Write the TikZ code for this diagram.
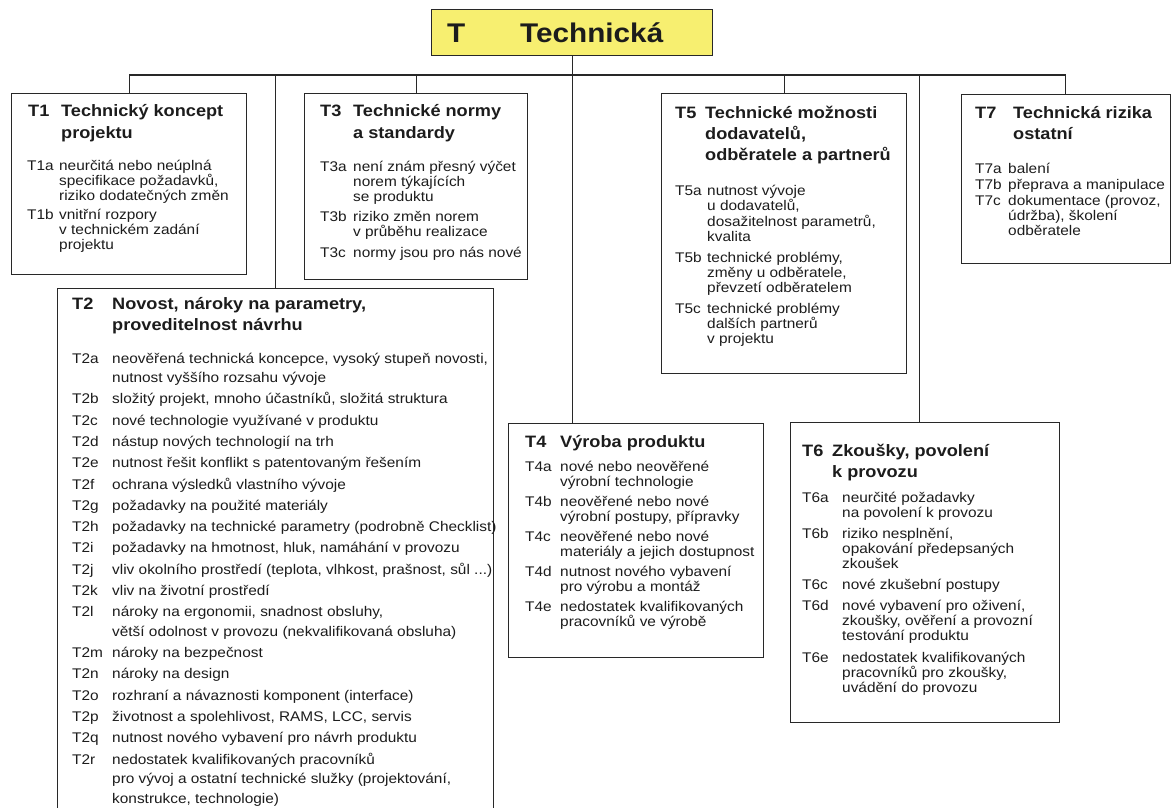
\documentclass[tikz,border=0pt]{standalone}
\usepackage{fontspec}
\setmainfont{Liberation Sans}[FakeStretch=1.1]
\definecolor{ink}{RGB}{28,28,28}
\definecolor{linec}{RGB}{40,40,40}
\definecolor{titlefill}{RGB}{247,239,112}
% font sizes used in the panels
\newcommand\bodyfont{\fontsize{14}{15}\selectfont}
\newcommand\loosefont{\fontsize{14}{19.5}\selectfont}
\newcommand\headfont{\fontsize{16.5}{21.3}\selectfont\bfseries}
% a column of manually broken lines, aligned on its first baseline
\newcommand\lines[1]{\begin{tabular}[t]{@{}l@{}}#1\end{tabular}}
% fixed-width code label in front of a row
\newcommand\lab[2]{\makebox[#1][l]{#2}}
\begin{document}
\begin{tikzpicture}[x=1pt,y=-1pt,
  wire/.style={draw=linec,line width=1.2pt},
  panel/.style={draw=linec,line width=1.2pt,fill=white,anchor=north west,inner sep=0pt},
  titlebox/.style={panel,fill=titlefill},
  titletxt/.style={anchor=base west,inner sep=0pt,text=ink,font=\fontsize{27}{30}\selectfont\bfseries},
  head/.style={anchor=base west,inner sep=0pt,text=ink,font=\headfont},
  item/.style={anchor=base west,inner sep=0pt,text=ink,font=\bodyfont},
  looseitem/.style={item,font=\loosefont}]
\useasboundingbox (0,0) rectangle (1171,808);

% ---- boxes -------------------------------------------------------------
\node[titlebox,minimum width=281pt,minimum height=46pt] (title) at (431,9) {};
\node[panel,minimum width=235pt,minimum height=181pt] (t1) at (11,93) {};
\node[panel,minimum width=223pt,minimum height=186pt] (t3) at (304,93) {};
\node[panel,minimum width=245pt,minimum height=280pt] (t5) at (661,93) {};
\node[panel,minimum width=208.5pt,minimum height=169pt] (t7) at (961,94) {};
\node[panel,minimum width=436pt,minimum height=519.5pt] (t2) at (57,288) {};
\node[panel,minimum width=255pt,minimum height=234pt] (t4) at (508,423) {};
\node[panel,minimum width=269pt,minimum height=300pt] (t6) at (790,422) {};

% ---- connectors --------------------------------------------------------
\coordinate (bus) at (572,75);
\coordinate (t6top) at ([xshift=-5.5pt]t6.north);
\draw[wire] (title.south) -- (title.south |- t4.north);
\draw[wire] (t1.north |- bus) -- (t7.north |- bus);
\foreach \n in {t1,t2,t3,t5,t7}
  \draw[wire] (\n.north |- bus) -- (\n.north);
\draw[wire] (t6top |- bus) -- (t6top);

% ---- title -------------------------------------------------------------
\node[titletxt] (titleT) at (447,43) {T};
\node[titletxt] (titleName) at (520,43) {Technická};

% ---- T1 ----------------------------------------------------------------
\node[head] (t1h) at (28,117) {\lab{33pt}{T1}\lines{Technický koncept\\projektu}};
\node[item] (t1a) at (27,170) {\lab{32pt}{T1a}\lines{neurčitá nebo neúplná\\specifikace požadavků,\\riziko dodatečných změn}};
\node[item] (t1b) at (27,219) {\lab{32pt}{T1b}\lines{vnitřní rozpory\\v technickém zadání\\projektu}};

% ---- T3 ----------------------------------------------------------------
\node[head] (t3h) at (320,117) {\lab{33pt}{T3}\lines{Technické normy\\a standardy}};
\node[item] (t3a) at (320,171) {\lab{33pt}{T3a}\lines{není znám přesný výčet\\norem týkajících\\se produktu}};
\node[item] (t3b) at (320,221) {\lab{33pt}{T3b}\lines{riziko změn norem\\v průběhu realizace}};
\node[item] (t3c) at (320,257) {\lab{33pt}{T3c}\lines{normy jsou pro nás nové}};

% ---- T5 ----------------------------------------------------------------
\node[head] (t5h) at (675,118) {\lab{30pt}{T5}\lines{Technické možnosti\\dodavatelů,\\odběratele a partnerů}};
\node[item] (t5a) at (675,195) {\lab{32pt}{T5a}\lines{nutnost vývoje\\u dodavatelů,\\dosažitelnost parametrů,\\kvalita}};
\node[item] (t5b) at (675,262) {\lab{32pt}{T5b}\lines{technické problémy,\\změny u odběratele,\\převzetí odběratelem}};
\node[item] (t5c) at (675,313) {\lab{32pt}{T5c}\lines{technické problémy\\dalších partnerů\\v projektu}};

% ---- T7 ----------------------------------------------------------------
\node[head] (t7h) at (975,118) {\lab{38pt}{T7}\lines{Technická rizika\\ostatní}};
\node[item] (t7a) at (975,173) {\lab{33pt}{T7a}\lines{balení}};
\node[item] (t7b) at (975,189) {\lab{33pt}{T7b}\lines{přeprava a manipulace}};
\node[item] (t7c) at (975,205) {\lab{33pt}{T7c}\lines{dokumentace (provoz,\\údržba), školení\\odběratele}};

% ---- T2 ----------------------------------------------------------------
\node[head] (t2h) at (72,309) {\lab{40pt}{T2}\lines{Novost, nároky na parametry,\\proveditelnost návrhu}};
\node[looseitem] (t2a) at (72,363) {\lab{40pt}{T2a}\lines{neověřená technická koncepce, vysoký stupeň novosti,\\nutnost vyššího rozsahu vývoje}};
\node[looseitem] (t2b) at (72,403.8) {\lab{40pt}{T2b}\lines{složitý projekt, mnoho účastníků, složitá struktura}};
\node[looseitem] (t2c) at (72,425.1) {\lab{40pt}{T2c}\lines{nové technologie využívané v produktu}};
\node[looseitem] (t2d) at (72,446.4) {\lab{40pt}{T2d}\lines{nástup nových technologií na trh}};
\node[looseitem] (t2e) at (72,467.7) {\lab{40pt}{T2e}\lines{nutnost řešit konflikt s patentovaným řešením}};
\node[looseitem] (t2f) at (72,489.0) {\lab{40pt}{T2f}\lines{ochrana výsledků vlastního vývoje}};
\node[looseitem] (t2g) at (72,510.3) {\lab{40pt}{T2g}\lines{požadavky na použité materiály}};
\node[looseitem] (t2h) at (72,531.6) {\lab{40pt}{T2h}\lines{požadavky na technické parametry (podrobně Checklist)}};
\node[looseitem] (t2i) at (72,552.9) {\lab{40pt}{T2i}\lines{požadavky na hmotnost, hluk, namáhání v provozu}};
\node[looseitem] (t2j) at (72,574.2) {\lab{40pt}{T2j}\lines{vliv okolního prostředí (teplota, vlhkost, prašnost, sůl ...)}};
\node[looseitem] (t2k) at (72,595.5) {\lab{40pt}{T2k}\lines{vliv na životní prostředí}};
\node[looseitem] (t2l) at (72,616.8) {\lab{40pt}{T2l}\lines{nároky na ergonomii, snadnost obsluhy,\\větší odolnost v provozu (nekvalifikovaná obsluha)}};
\node[looseitem] (t2m) at (72,657.6) {\lab{40pt}{T2m}\lines{nároky na bezpečnost}};
\node[looseitem] (t2n) at (72,678.9) {\lab{40pt}{T2n}\lines{nároky na design}};
\node[looseitem] (t2o) at (72,700.2) {\lab{40pt}{T2o}\lines{rozhraní a návaznosti komponent (interface)}};
\node[looseitem] (t2p) at (72,721.5) {\lab{40pt}{T2p}\lines{životnost a spolehlivost, RAMS, LCC, servis}};
\node[looseitem] (t2q) at (72,742.8) {\lab{40pt}{T2q}\lines{nutnost nového vybavení pro návrh produktu}};
\node[looseitem] (t2r) at (72,764.1) {\lab{40pt}{T2r}\lines{nedostatek kvalifikovaných pracovníků\\pro vývoj a ostatní technické služky (projektování,\\konstrukce, technologie)}};

% ---- T4 ----------------------------------------------------------------
\node[head] (t4h) at (525,447) {\lab{35pt}{T4}\lines{Výroba produktu}};
\node[item] (t4a) at (525,471) {\lab{35pt}{T4a}\lines{nové nebo neověřené\\výrobní technologie}};
\node[item] (t4b) at (525,506) {\lab{35pt}{T4b}\lines{neověřené nebo nové\\výrobní postupy, přípravky}};
\node[item] (t4c) at (525,541) {\lab{35pt}{T4c}\lines{neověřené nebo nové\\materiály a jejich dostupnost}};
\node[item] (t4d) at (525,576) {\lab{35pt}{T4d}\lines{nutnost nového vybavení\\pro výrobu a montáž}};
\node[item] (t4e) at (525,611) {\lab{35pt}{T4e}\lines{nedostatek kvalifikovaných\\pracovníků ve výrobě}};

% ---- T6 ----------------------------------------------------------------
\node[head] (t6h) at (802,456) {\lab{30pt}{T6}\lines{Zkoušky, povolení\\k provozu}};
\node[item] (t6a) at (802,502) {\lab{40pt}{T6a}\lines{neurčité požadavky\\na povolení k provozu}};
\node[item] (t6b) at (802,538) {\lab{40pt}{T6b}\lines{riziko nesplnění,\\opakování předepsaných\\zkoušek}};
\node[item] (t6c) at (802,589) {\lab{40pt}{T6c}\lines{nové zkušební postupy}};
\node[item] (t6d) at (802,610) {\lab{40pt}{T6d}\lines{nové vybavení pro oživení,\\zkoušky, ověření a provozní\\testování produktu}};
\node[item] (t6e) at (802,662) {\lab{40pt}{T6e}\lines{nedostatek kvalifikovaných\\pracovníků pro zkoušky,\\uvádění do provozu}};
\end{tikzpicture}
\end{document}
